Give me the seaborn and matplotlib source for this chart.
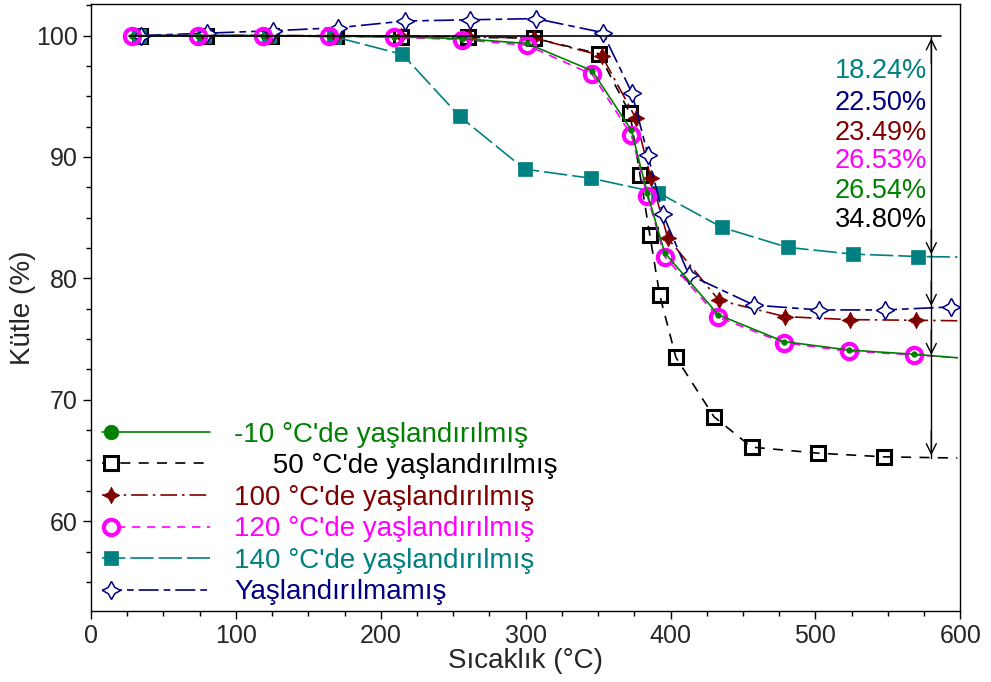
import numpy as np
import pandas as pd
import seaborn as sns
import matplotlib.pyplot as plt
from matplotlib.ticker import MultipleLocator
from matplotlib.lines import Line2D
from matplotlib.legend_handler import HandlerLine2D

# values (last point of each list = end of curve, no marker)
t_m10 = [28, 74, 119, 164, 209, 256, 301, 346, 373, 384, 396, 433, 478, 523, 568, 598]
m_m10 = [100, 100, 100, 99.97, 99.9, 99.75, 99.35, 97.1, 92.2, 87.0, 82.1, 77.0, 74.8, 74.1, 73.75, 73.46]

t_50 = [34, 79.5, 124, 169, 214, 260, 305.5, 350.5, 372, 379, 385.7, 392.6, 403.7, 430, 456, 502, 547.5, 598]
m_50 = [100, 100, 100, 99.95, 99.9, 99.85, 99.8, 98.5, 93.6, 88.5, 83.6, 78.6, 73.5, 68.6, 66.1, 65.6, 65.3, 65.2]

t_100 = [34.6, 79.5, 124.4, 169.4, 214.3, 260.6, 305.5, 352.5, 376, 386.4, 398.2, 433.4, 479, 524, 569.6, 598]
m_100 = [100, 100, 100, 100, 99.95, 99.9, 99.8, 98.35, 93.2, 88.3, 83.3, 78.2, 76.85, 76.6, 76.55, 76.51]

t_120 = [28, 74, 119, 164, 209, 256, 301, 346, 373, 384, 396, 433, 478, 523, 568, 598]
m_120 = [100, 100, 100, 99.95, 99.86, 99.67, 99.2, 96.8, 91.8, 86.8, 81.8, 76.8, 74.7, 74.0, 73.7, 73.47]

t_140 = [33.2, 78.1, 123, 168, 215, 254.4, 299.3, 345, 391.7, 435.5, 481, 525.8, 571, 598]
m_140 = [100, 100, 100, 99.9, 98.45, 93.35, 89.0, 88.25, 87.05, 84.2, 82.55, 82.0, 81.8, 81.76]

t_raw = [34.6, 80.2, 125.8, 170.7, 216.4, 261.3, 306.9, 353.2, 373.3, 384.3, 394.7, 412.7, 457.6, 502.5, 548, 593.8, 598]
m_raw = [100, 100.2, 100.4, 100.65, 101.2, 101.3, 101.4, 100.25, 95.3, 90.2, 85.3, 80.3, 77.8, 77.4, 77.4, 77.65, 77.6]

labels = ["-10 °C'de yaşlandırılmış", "     50 °C'de yaşlandırılmış", "100 °C'de yaşlandırılmış",
          "120 °C'de yaşlandırılmış", "140 °C'de yaşlandırılmış", "Yaşlandırılmamış"]
losses = ["18.24%", "22.50%", "23.49%", "26.53%", "26.54%", "34.80%"]
loss_levels = [81.76, 77.5, 73.46, 65.2]

sns.set_style('ticks')
plt.rcParams['font.family'] = ['Liberation Sans', 'DejaVu Sans']

fig = plt.figure(figsize=(9.91, 6.82), dpi=100)
ax = fig.add_axes([0.0918, 0.1041, 0.8772, 0.8900])

star4 = (4, 1, 0)
series = [
    # x, y, color, linestyle, marker, size, face, edge width, zorder
    (t_50, m_50, 'black', (0, (6, 5)), 's', 10, 'none', 2.2, 3),
    (t_140, m_140, '#008080', (0, (14, 3)), 's', 9.5, '#008080', 0.5, 3),
    (t_100, m_100, '#800000', (0, (10, 3, 1.5, 3)), star4, 12, '#800000', 0.5, 4),
    (t_raw, m_raw, '#000080', (0, (12, 3, 4, 3)), star4, 13, 'white', 1.1, 5),
    (t_120, m_120, '#FF00FF', (0, (5, 4)), 'o', 11, 'none', 3, 6),
    (t_m10, m_m10, '#008000', '-', 'o', 4, '#008000', 0.5, 7),
]

for x, y, c, ls, mk, ms, fc, mew, z in series:
    df = pd.DataFrame({'T': x, 'M': y})
    sns.lineplot(data=df, x='T', y='M', ax=ax, color=c, linestyle=ls, lw=1.2,
                 marker=mk, markersize=ms, markerfacecolor=fc, markeredgecolor=c,
                 markeredgewidth=mew, markevery=slice(0, -1), sort=False, zorder=z)

# mass loss indicator
ax.plot([26, 587], [100, 100], color='black', lw=1.2, zorder=8)
ax.plot([580, 580], [65.2, 100], color='black', lw=1.0, zorder=8)
ax.annotate('', xy=(580, 100), xytext=(580, 97.5),
            arrowprops=dict(arrowstyle='->', lw=1.0, color='black', mutation_scale=18), zorder=8)
for lv in loss_levels:
    ax.annotate('', xy=(580, lv), xytext=(580, lv + 2.5),
                arrowprops=dict(arrowstyle='->', lw=1.0, color='black', mutation_scale=18), zorder=8)

loss_colors = ['#008080', '#000080', '#800000', '#FF00FF', '#008000', 'black']
loss_y = [97.06, 94.45, 91.98, 89.63, 87.16, 84.82]
for txt, c, yy in zip(losses, loss_colors, loss_y):
    ax.text(577, yy, txt, color=c, fontsize=19.5, ha='right', va='center')

ax.set_xlim(0, 600)
ax.set_ylim(52.6, 102.6)
ax.xaxis.set_major_locator(MultipleLocator(100))
ax.xaxis.set_minor_locator(MultipleLocator(25))
ax.yaxis.set_minor_locator(MultipleLocator(2.5))
ax.set_yticks([60, 70, 80, 90, 100])
ax.tick_params(which='major', length=6, width=1, labelsize=18, color='black')
ax.tick_params(which='minor', length=3.5, width=1, color='black')
for sp in ax.spines.values():
    sp.set_color('black')
    sp.set_linewidth(1.0)
ax.set_xlabel('Sıcaklık (°C)', fontsize=20, labelpad=0)
ax.set_ylabel('Kütle (%)', fontsize=20, labelpad=0)


class LeftMarker(HandlerLine2D):
    # single marker near the left end of the legend line
    def create_artists(self, legend, orig_handle, xdescent, ydescent, width, height, fontsize, trans):
        x0 = -xdescent
        xdata = np.array([x0, x0 + 0.08 * width, x0 + width])
        ydata = np.full_like(xdata, (height - ydescent) / 2)
        line = Line2D(xdata, ydata)
        self.update_prop(line, orig_handle, legend)
        line.set_markevery([1])
        line.set_transform(trans)
        return [line]


leg_order = [5, 0, 2, 4, 1, 3]
handles = []
for i in leg_order:
    x, y, c, ls, mk, ms, fc, mew, z = series[i]
    if i == 5:
        ms = 10.5
    handles.append(Line2D([], [], color=c, linestyle=ls, lw=1.2, marker=mk, markersize=ms,
                          markerfacecolor=fc if fc != 'none' else 'white',
                          markeredgecolor=c, markeredgewidth=mew))
leg = ax.legend(handles, labels, loc='lower left', bbox_to_anchor=(-0.005, -0.016), frameon=False,
                fontsize=20, handlelength=3.9, handletextpad=0.85, labelspacing=0.2,
                borderaxespad=0.15, handler_map={Line2D: LeftMarker()})
for t, i in zip(leg.get_texts(), leg_order):
    t.set_color(series[i][2])

fig.savefig('out.png', dpi=100)
